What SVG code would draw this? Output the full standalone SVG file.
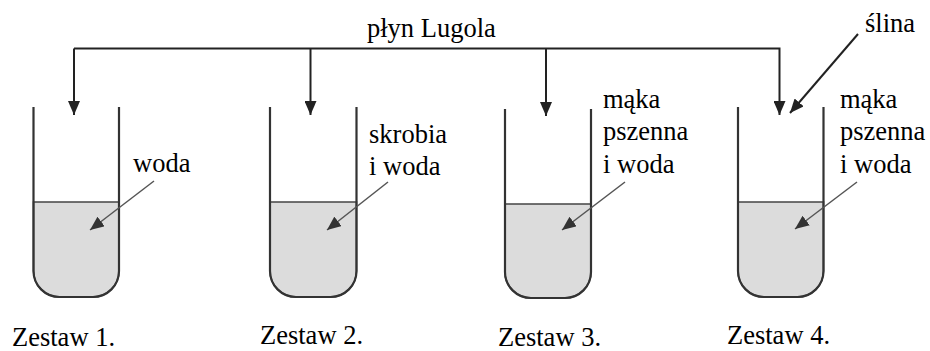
<svg xmlns="http://www.w3.org/2000/svg" width="930" height="351" viewBox="0 0 930 351">
<style>
.tube{fill:none;stroke:#333;stroke-width:2.2}
.liq{fill:#dcdcdc;stroke:#444;stroke-width:1.6}
.t{font-family:'Liberation Serif','Times New Roman',serif;font-size:26.5px;fill:#000}
.main{fill:none;stroke:#222;stroke-width:2}
.lbl{fill:none;stroke:#555;stroke-width:1.5}
</style>
<defs>
<marker id="ah" viewBox="0 0 14 12" refX="14" refY="6" markerWidth="14" markerHeight="12" markerUnits="userSpaceOnUse" orient="auto">
<path d="M0,0 L14,6 L0,12 Z" fill="#222"/>
</marker>
<marker id="ah2" viewBox="0 0 14 12" refX="14" refY="6" markerWidth="14" markerHeight="12" markerUnits="userSpaceOnUse" orient="auto">
<path d="M0,0 L14,6 L0,12 Z" fill="#333"/>
</marker>
</defs>
<rect width="930" height="351" fill="#fff"/>
<g id="zestaw1">
<path class="liq" d="M33.5,202 V271 A26,26 0 0 0 59.5,297 H93 A26,26 0 0 0 119,271 V202 Z"/>
<path class="tube" d="M33.5,107 V271 A26,26 0 0 0 59.5,297 H93 A26,26 0 0 0 119,271 V107"/>
<text class="t" x="133" y="172">woda</text>
<text class="t" x="12" y="346">Zestaw 1.</text>
</g>
<g id="zestaw2">
<path class="liq" d="M270,202 V271 A26,26 0 0 0 296,297 H330.5 A26,26 0 0 0 356.5,271 V202 Z"/>
<path class="tube" d="M270,107 V271 A26,26 0 0 0 296,297 H330.5 A26,26 0 0 0 356.5,271 V107"/>
<text class="t" x="369" y="143">skrobia</text>
<text class="t" x="369" y="175">i woda</text>
<text class="t" x="260" y="344">Zestaw 2.</text>
</g>
<g id="zestaw3">
<path class="liq" d="M505,204 V272 A26,26 0 0 0 531,298 H565 A26,26 0 0 0 591,272 V204 Z"/>
<path class="tube" d="M505,109 V272 A26,26 0 0 0 531,298 H565 A26,26 0 0 0 591,272 V109"/>
<text class="t" x="603" y="108">mąka</text>
<text class="t" x="603" y="140">pszenna</text>
<text class="t" x="603" y="173">i woda</text>
<text class="t" x="498" y="346">Zestaw 3.</text>
</g>
<g id="zestaw4">
<path class="liq" d="M738,202 V271 A26,26 0 0 0 764,297 H797.5 A26,26 0 0 0 823.5,271 V202 Z"/>
<path class="tube" d="M738,107 V271 A26,26 0 0 0 764,297 H797.5 A26,26 0 0 0 823.5,271 V107"/>
<text class="t" x="840" y="108">mąka</text>
<text class="t" x="840" y="140">pszenna</text>
<text class="t" x="840" y="173">i woda</text>
<text class="t" x="727" y="344">Zestaw 4.</text>
</g>
<text class="t" x="367" y="37">płyn Lugola</text>
<text class="t" x="865" y="32">ślina</text>
<g id="connectors">
<polyline class="main" points="74,48.5 779.5,48.5 779.5,115" marker-end="url(#ah)"/>
<line class="main" x1="74" y1="48.5" x2="74" y2="115" marker-end="url(#ah)"/>
<line class="main" x1="310.5" y1="48.5" x2="310.5" y2="115" marker-end="url(#ah)"/>
<line class="main" x1="546" y1="48.5" x2="546" y2="116" marker-end="url(#ah)"/>
<line class="main" x1="858" y1="34" x2="790" y2="113" marker-end="url(#ah)"/>
<line class="lbl" x1="154" y1="181" x2="90" y2="230" marker-end="url(#ah2)"/>
<line class="lbl" x1="388" y1="182" x2="327" y2="230" marker-end="url(#ah2)"/>
<line class="lbl" x1="625" y1="182" x2="562" y2="230" marker-end="url(#ah2)"/>
<line class="lbl" x1="857" y1="182" x2="795" y2="229" marker-end="url(#ah2)"/>
</g>
</svg>
